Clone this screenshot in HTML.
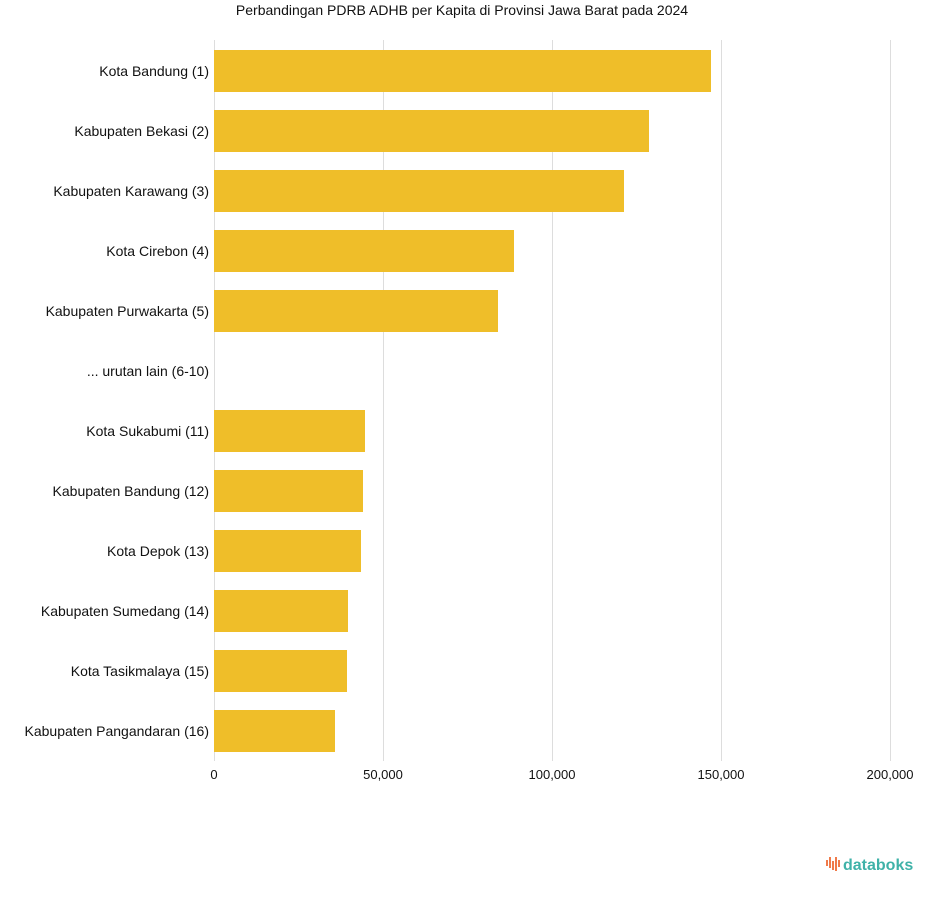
<!DOCTYPE html>
<html><head><style>
body{margin:0;background:#fff;width:925px;height:894px;overflow:hidden;font-family:"Liberation Sans",sans-serif;}
</style></head><body>
<svg width="925" height="894" xmlns="http://www.w3.org/2000/svg" font-family="Liberation Sans, sans-serif">
<text x="462" y="15" text-anchor="middle" font-size="14" fill="#111">Perbandingan PDRB ADHB per Kapita di Provinsi Jawa Barat pada 2024</text>
<g stroke="#dddddd" stroke-width="1">
<line x1="214.5" y1="40" x2="214.5" y2="761"/>
<line x1="383.5" y1="40" x2="383.5" y2="761"/>
<line x1="552.5" y1="40" x2="552.5" y2="761"/>
<line x1="721.5" y1="40" x2="721.5" y2="761"/>
<line x1="890.5" y1="40" x2="890.5" y2="761"/>
</g>
<g fill="#efbe29">
<rect x="214" y="50" width="497" height="42"/>
<rect x="214" y="110" width="435" height="42"/>
<rect x="214" y="170" width="410" height="42"/>
<rect x="214" y="230" width="300" height="42"/>
<rect x="214" y="290" width="284" height="42"/>
<rect x="214" y="410" width="151" height="42"/>
<rect x="214" y="470" width="149" height="42"/>
<rect x="214" y="530" width="147" height="42"/>
<rect x="214" y="590" width="134" height="42"/>
<rect x="214" y="650" width="133" height="42"/>
<rect x="214" y="710" width="121" height="42"/>
</g>
<g font-size="14" fill="#111" text-anchor="end">
<text x="209" y="76">Kota Bandung (1)</text>
<text x="209" y="136">Kabupaten Bekasi (2)</text>
<text x="209" y="196">Kabupaten Karawang (3)</text>
<text x="209" y="256">Kota Cirebon (4)</text>
<text x="209" y="316">Kabupaten Purwakarta (5)</text>
<text x="209" y="376">... urutan lain (6-10)</text>
<text x="209" y="436">Kota Sukabumi (11)</text>
<text x="209" y="496">Kabupaten Bandung (12)</text>
<text x="209" y="556">Kota Depok (13)</text>
<text x="209" y="616">Kabupaten Sumedang (14)</text>
<text x="209" y="676">Kota Tasikmalaya (15)</text>
<text x="209" y="736">Kabupaten Pangandaran (16)</text>
</g>
<g font-size="13" fill="#111" text-anchor="middle">
<text x="214" y="779">0</text>
<text x="383" y="779">50,000</text>
<text x="552" y="779">100,000</text>
<text x="721" y="779">150,000</text>
<text x="890" y="779">200,000</text>
</g>
<g fill="#f07a4a">
<rect x="826" y="860" width="2" height="6"/><rect x="829" y="857" width="2" height="11"/>
<rect x="832" y="861" width="2" height="9"/><rect x="835" y="857" width="2" height="14"/>
<rect x="838" y="860" width="2" height="7"/>
</g>
<text x="843" y="870" font-size="16" fill="#3fb2a8" font-weight="bold">databoks</text>
</svg>
</body></html>
